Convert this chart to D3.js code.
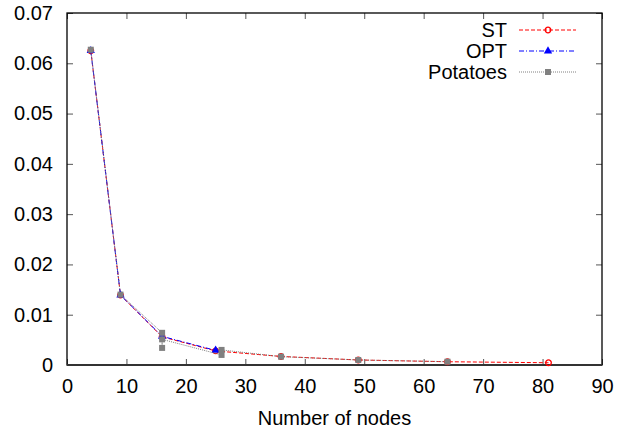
<!DOCTYPE html>
<html>
<head>
<meta charset="utf-8">
<script src="https://cdn.jsdelivr.net/npm/d3@7"></script>
<style>
  body { margin: 0; background: #fff; }
  svg text { font-family: "Liberation Sans", Arial, sans-serif; fill: #000; }
</style>
</head>
<body>
<div id="chart"></div>
<script>
// values
const ST_X   = [4, 9, 16, 25, 36, 49, 64, 81];
const ST_Y   = [0.0625, 0.0139, 0.0056, 0.0028, 0.0017, 0.0010, 0.00065, 0.00045];
const OPT_X  = [4, 9, 16, 25];
const OPT_Y  = [0.0625, 0.0139, 0.0057, 0.0029];
const POT_X  = [4, 9, 16, 16, 16, 26, 26, 36, 49, 64];
const POT_Y  = [0.0627, 0.0140, 0.0064, 0.0034, 0.0051, 0.0020, 0.0030, 0.00166, 0.0010, 0.00066];
const X_TICKS = [0, 10, 20, 30, 40, 50, 60, 70, 80, 90];
const Y_TICKS = [0, 0.01, 0.02, 0.03, 0.04, 0.05, 0.06, 0.07];

const W = 618, H = 432;
const margin = { top: 13, right: 16, bottom: 67, left: 67 };
const innerW = W - margin.left - margin.right;
const innerH = H - margin.top - margin.bottom;
const FS = "20px";

const svg = d3.select("#chart").append("svg")
    .attr("width", W).attr("height", H);
const g = svg.append("g")
    .attr("transform", `translate(${margin.left},${margin.top})`);

const x = d3.scaleLinear().domain([0, 90]).range([0, innerW]);
const y = d3.scaleLinear().domain([0, 0.07]).range([innerH, 0]);

// axes, ticks pointing inward, mirrored on top/right
const fmtY = d => d === 0 ? "0" : d3.format(".2f")(d);
g.append("g")
    .attr("transform", `translate(0,${innerH})`)
    .call(d3.axisBottom(x).tickValues(X_TICKS).tickSize(-6).tickPadding(14))
    .call(ax => ax.select(".domain").remove());
g.append("g")
    .call(d3.axisTop(x).tickValues(X_TICKS).tickSize(-6).tickFormat(""))
    .call(ax => ax.select(".domain").remove());
g.append("g")
    .call(d3.axisLeft(y).tickValues(Y_TICKS).tickSize(-6).tickPadding(14).tickFormat(fmtY))
    .call(ax => ax.select(".domain").remove());
g.append("g")
    .attr("transform", `translate(${innerW},0)`)
    .call(d3.axisRight(y).tickValues(Y_TICKS).tickSize(-6).tickFormat(""))
    .call(ax => ax.select(".domain").remove());

g.selectAll(".tick line").attr("stroke", "#555").attr("stroke-width", 1);
g.selectAll(".tick text").attr("font-size", FS).attr("fill", "#000");

// frame
g.append("rect")
    .attr("width", innerW).attr("height", innerH)
    .attr("fill", "none").attr("stroke", "#000").attr("stroke-width", 1.3);
g.append("line")
    .attr("x1", 0).attr("x2", innerW).attr("y1", innerH).attr("y2", innerH)
    .attr("stroke", "#333").attr("stroke-width", 2);

svg.append("text")
    .attr("x", margin.left + innerW / 2).attr("y", 425)
    .attr("text-anchor", "middle").attr("font-size", FS)
    .text("Number of nodes");

const line = d3.line().x(d => x(d[0])).y(d => y(d[1]));
const zip = (xs, ys) => xs.map((v, i) => [v, ys[i]]);

const series = [
    { name: "ST", data: zip(ST_X, ST_Y), color: "#ff0000", dash: "4,2", marker: "circle" },
    { name: "OPT", data: zip(OPT_X, OPT_Y), color: "#0000ff", dash: "5,2,1,2", marker: "triangle" },
    { name: "Potatoes", data: zip(POT_X, POT_Y), color: "#808080", dash: "1,1", marker: "square" }
];

function drawMarker(sel, type, color) {
    if (type === "circle") {
        sel.append("circle").attr("r", 2.8)
            .attr("fill", "none").attr("stroke", color).attr("stroke-width", 1.3);
    } else if (type === "triangle") {
        sel.append("path").attr("d", d3.symbol(d3.symbolTriangle, 30)())
            .attr("fill", color);
    } else {
        sel.append("rect").attr("x", -3).attr("y", -3).attr("width", 6).attr("height", 6)
            .attr("fill", color);
    }
}

series.forEach(s => {
    g.append("path")
        .datum(s.data)
        .attr("d", line)
        .attr("fill", "none")
        .attr("stroke", s.color)
        .attr("stroke-width", 1)
        .attr("stroke-dasharray", s.dash);
    g.selectAll(null)
        .data(s.data)
        .join("g")
        .attr("transform", d => `translate(${x(d[0])},${y(d[1])})`)
        .each(function () { drawMarker(d3.select(this), s.marker, s.color); });
});

// legend
const legend = svg.append("g");
series.forEach((s, i) => {
    const ly = 30 + i * 21;
    legend.append("text")
        .attr("x", 507).attr("y", ly + 6.5)
        .attr("text-anchor", "end").attr("font-size", FS)
        .text(s.name);
    legend.append("line")
        .attr("x1", 519).attr("x2", 576).attr("y1", ly).attr("y2", ly)
        .attr("stroke", s.color).attr("stroke-width", 1)
        .attr("stroke-dasharray", s.dash);
    const m = legend.append("g").attr("transform", `translate(548,${ly})`);
    drawMarker(m, s.marker, s.color);
});
</script>
</body>
</html>
